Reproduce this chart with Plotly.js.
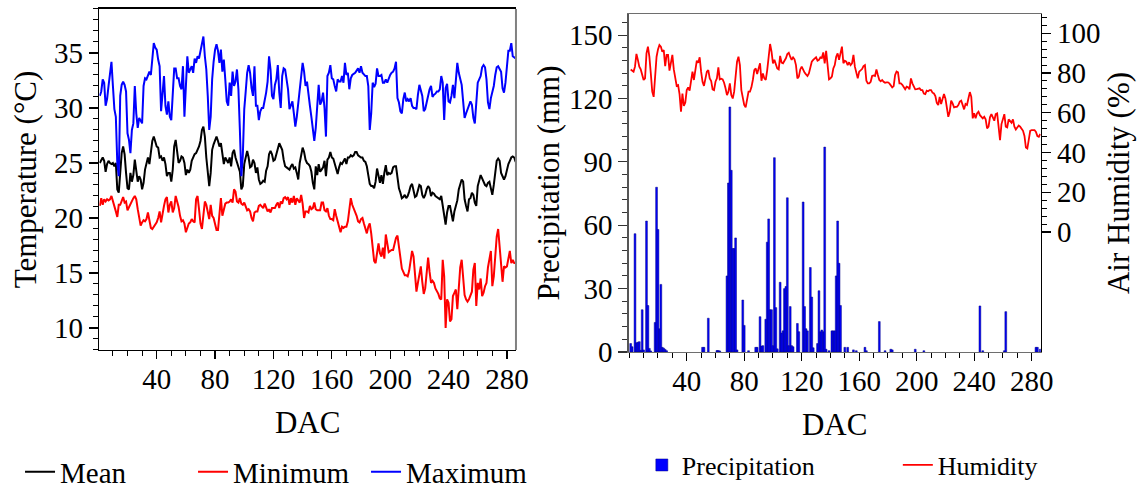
<!DOCTYPE html>
<html>
<head>
<meta charset="utf-8">
<script src="https://cdn.plot.ly/plotly-3.0.1.min.js"></script>
<style>
  html, body { margin: 0; padding: 0; background: #fff; }
  #chart { width: 1138px; height: 488px; }
</style>
</head>
<body>
<div id="chart"></div>
<script>
// ---------- DATA ----------
const NDAYS = 286;
const dac = Array.from({length: NDAYS}, (_, i) => i + 1);

const tempMax = [
  31.1,31.5,32.6,32.3,30.2,30.8,32.0,33.2,34.2,32.0,
  29.9,29.2,25.0,23.8,31.1,32.1,32.4,32.1,31.5,27.7,
  27.1,25.9,28.0,28.6,32.0,29.5,28.2,29.1,28.9,28.6,
  32.0,32.7,32.6,32.9,33.3,33.0,34.5,35.9,35.5,35.3,
  34.4,33.8,29.7,31.7,32.9,30.2,29.4,30.6,29.2,28.9,
  31.1,33.6,33.6,32.7,32.7,32.0,31.7,33.8,29.2,32.3,
  34.7,33.2,33.5,33.8,33.2,34.5,34.1,34.7,34.5,35.3,
  35.9,36.5,34.7,33.5,31.1,28.0,29.2,32.6,34.2,35.3,
  35.8,35.2,34.1,35.3,33.3,34.4,32.6,30.6,30.2,32.3,
  31.1,33.3,32.0,32.4,33.5,31.7,28.0,23.8,25.6,29.9,
  31.5,33.2,33.9,33.2,31.8,31.1,33.8,30.2,30.2,28.9,
  29.7,30.0,30.0,30.6,31.4,32.4,34.7,33.5,31.1,30.8,
  32.1,32.6,33.9,31.4,30.0,32.9,33.6,33.5,32.7,31.7,
  29.9,30.2,30.6,29.5,28.3,29.2,30.5,31.2,32.6,34.1,
  33.3,32.0,32.4,31.5,30.2,29.2,28.3,27.0,28.2,30.2,
  32.1,30.3,30.6,31.4,30.0,27.4,32.9,33.2,33.9,32.7,
  32.6,32.0,31.5,32.6,32.4,32.4,32.9,32.3,34.1,33.0,
  33.2,31.7,32.7,33.0,33.1,33.2,33.4,33.6,33.2,33.8,
  33.2,33.0,32.9,32.9,32.0,28.0,29.5,32.3,31.9,32.2,
  33.6,32.9,32.9,33.0,32.3,32.3,32.6,32.3,32.7,33.0,
  33.2,33.3,33.6,34.2,30.9,30.5,29.7,29.5,30.8,31.4,
  30.6,30.8,30.6,30.9,30.2,30.0,30.0,29.9,31.2,32.1,
  31.6,31.1,29.7,29.9,30.5,31.2,31.7,32.0,31.0,31.2,
  31.3,31.5,31.5,31.7,32.9,32.3,28.9,31.8,32.2,30.6,
  30.5,31.1,32.1,30.9,32.4,34.1,33.2,32.7,32.1,30.6,
  29.1,29.5,29.9,30.2,30.6,30.3,29.1,28.6,30.9,32.3,
  32.6,32.9,33.7,33.9,33.7,32.6,30.5,29.9,30.9,31.5,
  32.0,33.0,33.7,33.8,33.6,33.3,31.8,31.4,32.3,34.1,
  35.2,35.2,35.9,34.7,34.6,34.5
];

const tempMean = [
  25.0,25.2,25.5,25.2,24.2,24.9,25.2,25.0,24.9,25.0,
  24.7,25.0,22.6,22.3,24.7,25.9,26.5,25.8,24.1,22.7,
  22.6,24.1,23.3,23.9,25.3,24.1,23.3,23.8,23.5,22.6,
  23.2,24.4,25.0,25.5,24.9,26.1,27.0,27.4,27.0,26.5,
  26.4,25.5,25.6,25.2,25.5,24.9,23.8,24.1,24.1,23.3,
  24.4,26.5,27.1,26.1,25.0,25.2,25.6,25.5,25.0,23.9,
  24.4,24.1,24.4,25.2,25.5,25.8,25.9,26.2,26.5,27.0,
  28.0,28.3,27.4,25.5,24.4,22.9,24.1,26.2,26.7,27.1,
  27.4,27.0,26.5,26.8,25.8,24.9,25.5,25.3,25.0,25.5,
  24.7,25.9,26.2,25.5,25.0,24.7,24.2,22.6,22.9,24.9,
  25.5,26.1,25.5,24.6,24.7,25.3,25.0,24.1,24.6,23.5,
  23.1,23.2,23.4,23.3,24.3,24.7,25.8,26.1,25.8,25.2,
  25.3,25.8,26.4,26.8,26.5,26.2,25.3,24.7,24.6,24.5,
  24.4,24.7,24.9,24.5,24.6,24.1,23.5,25.0,25.8,26.4,
  26.0,25.3,25.0,24.9,24.7,24.2,23.2,22.6,24.7,23.9,
  24.9,24.2,24.4,24.6,25.2,23.8,25.3,25.5,26.0,25.5,
  25.4,25.0,24.5,24.0,24.6,25.0,24.9,25.2,25.4,24.9,
  25.5,25.5,25.7,25.6,25.7,26.0,26.0,25.7,25.6,25.5,
  25.5,25.2,25.1,24.7,23.9,23.1,22.9,22.9,22.7,23.3,
  24.5,23.8,23.2,23.9,23.1,24.1,24.8,23.9,24.1,24.0,
  24.1,24.6,24.7,24.7,23.6,22.7,22.3,21.8,21.9,22.1,
  21.8,22.0,22.4,22.9,23.1,22.4,21.9,22.0,22.6,23.0,
  22.9,22.1,21.8,22.1,22.6,22.9,22.7,22.0,22.3,22.2,
  22.0,21.9,21.8,21.7,22.0,21.2,20.2,19.4,20.5,21.1,
  21.1,20.2,19.7,20.6,21.0,21.6,22.6,23.0,23.5,23.3,
  21.7,21.1,20.6,21.7,21.8,22.3,22.1,21.4,21.1,22.9,
  23.3,23.9,23.6,23.2,23.0,22.9,23.2,23.3,22.5,22.1,
  23.0,24.4,25.2,25.4,25.2,24.1,23.8,23.5,23.8,24.4,
  24.9,25.2,25.5,25.6,25.5,25.1
];

const tempMin = [
  21.1,21.8,21.2,21.7,21.5,21.7,21.6,21.7,22.0,21.6,
  21.1,20.6,20.1,21.2,21.2,21.5,21.9,21.4,21.5,20.7,
  21.0,21.3,21.5,21.8,22.0,21.7,20.8,20.2,19.3,19.6,
  19.8,19.7,19.9,20.5,19.7,19.1,19.0,19.2,19.4,19.6,
  20.0,20.6,19.6,20.5,21.1,21.7,21.9,20.5,21.2,21.5,
  20.5,20.9,22.0,21.5,21.0,20.2,19.7,19.8,19.5,18.7,
  19.2,19.5,19.6,19.9,19.7,19.6,21.7,22.0,20.8,19.5,
  19.0,20.2,21.5,21.2,20.6,19.9,21.2,20.2,20.0,19.5,
  18.9,18.9,20.8,21.8,20.2,20.8,21.3,21.4,21.4,21.5,
  21.7,21.4,22.6,22.4,21.5,21.4,21.8,21.3,21.2,21.4,
  21.0,20.7,20.8,20.6,20.0,19.7,20.5,20.6,20.6,21.1,
  21.2,21.0,20.9,21.3,20.9,20.6,20.8,20.5,20.9,20.9,
  20.9,21.2,21.4,20.9,21.5,21.3,21.8,21.9,21.7,21.9,
  21.2,21.8,21.4,22.0,21.2,21.8,21.6,21.4,22.1,21.3,
  20.0,20.6,20.6,20.5,21.1,20.8,20.9,21.4,20.8,20.7,
  20.7,20.7,21.4,21.4,20.7,20.6,20.9,20.2,19.9,19.9,
  19.8,20.8,20.2,19.6,19.2,18.7,19.2,19.1,19.2,19.2,
  19.7,21.1,21.8,21.2,20.9,20.5,20.2,19.7,19.6,19.9,
  20.0,19.5,19.1,18.6,19.2,19.5,18.6,17.4,16.1,15.9,
  17.1,17.7,16.8,16.5,17.3,16.3,18.5,17.6,16.9,17.0,
  17.1,17.1,17.7,18.2,18.4,17.4,15.9,15.4,15.1,14.8,
  14.8,14.7,15.2,16.1,17.0,16.5,14.4,13.3,14.1,15.0,
  15.6,14.2,13.1,13.6,15.3,16.4,15.1,14.1,14.3,14.1,
  13.6,13.4,13.1,12.7,12.6,16.2,14.7,10.0,12.6,12.3,
  10.6,10.8,12.9,13.2,13.5,11.7,14.1,15.5,16.2,14.7,
  13.0,12.6,12.4,12.6,13.0,13.3,15.3,15.9,12.0,14.1,
  13.5,14.5,12.9,13.2,13.8,14.1,15.5,16.5,17.0,13.8,
  14.7,16.5,18.3,19.0,17.4,15.9,14.2,15.6,15.5,15.6,
  16.2,17.0,15.9,16.2,15.9,15.9
];

const humidity = [
  81.8,81.0,80.7,83.2,89.6,86.6,83.2,81.8,79.0,76.5,
  77.3,89.9,93.3,88.2,79.8,70.6,68.0,80.7,88.2,91.9,
  94.1,93.3,90.7,91.6,83.5,89.1,89.1,81.2,84.5,89.1,
  81.8,76.5,73.5,73.9,69.4,60.5,69.7,63.4,65.1,71.4,
  72.8,71.1,76.5,80.7,76.5,81.5,86.2,85.2,87.9,80.7,
  75.6,73.5,78.2,80.7,81.5,77.3,76.0,71.8,71.4,75.6,
  77.3,82.9,76.8,77.1,76.8,75.1,72.3,68.9,70.6,74.8,
  68.9,67.2,70.6,78.2,85.7,88.2,84.0,71.4,66.7,63.9,
  62.7,66.1,70.6,70.6,72.8,76.5,81.5,82.3,79.5,82.3,
  84.9,76.1,79.8,77.3,76.5,81.5,89.9,94.6,90.7,84.9,
  86.6,84.9,82.3,81.8,88.6,85.2,84.9,86.2,87.4,89.6,
  90.2,88.2,86.6,87.9,86.9,84.0,77.3,78.2,81.8,83.2,
  81.2,80.2,79.3,78.5,79.8,83.5,85.7,86.6,87.2,87.9,
  86.2,86.6,87.9,87.6,90.4,84.9,91.2,81.5,76.8,77.3,
  78.2,82.3,84.0,88.2,89.9,86.6,89.6,93.3,84.9,86.2,
  85.7,84.0,85.4,84.0,84.9,89.1,83.2,79.5,77.3,80.7,
  81.5,82.0,83.5,84.0,76.1,74.8,74.8,75.6,78.5,78.8,
  78.5,81.8,79.0,76.5,75.8,76.5,75.6,75.1,75.3,75.3,
  74.8,73.9,72.8,73.4,79.0,80.7,80.3,74.8,74.8,74.1,
  72.8,71.8,73.1,72.8,71.8,77.3,74.8,73.4,71.8,71.9,
  72.3,72.3,71.4,71.4,69.7,69.4,71.1,70.8,71.4,71.4,
  70.1,69.7,68.4,65.0,63.9,68.0,64.4,66.9,69.4,67.2,
  61.7,58.0,60.5,66.1,64.7,62.7,63.0,63.0,63.9,65.6,
  66.1,64.0,61.7,64.4,63.9,67.2,70.4,68.0,57.2,59.7,
  57.2,59.7,60.5,58.8,58.0,57.2,58.0,56.7,52.1,53.0,
  57.7,59.3,57.7,56.0,59.3,59.7,53.0,46.2,54.3,56.7,
  59.3,53.0,52.6,56.7,56.0,55.0,56.7,53.0,51.6,52.6,
  53.6,53.0,52.1,50.9,48.3,42.5,42.0,47.9,50.9,51.3,
  51.3,51.3,50.4,48.3,47.9,49.3
];

// precipitation: days with rain and the amount (mm)
const precipDays = [
  1,2,4,5,6,7,8,9,10,12,13,14,15,18,19,20,21,22,23,24,25,26,
  51,52,55,61,62,63,68,69,70,71,72,73,74,75,79,80,83,88,89,91,92,93,
  95,96,97,98,99,100,101,102,103,105,106,107,108,109,110,111,112,113,114,
  117,118,121,122,123,124,126,127,128,131,132,133,134,135,136,137,139,
  141,142,143,144,145,146,147,150,152,156,158,164,165,174,178,182,183,
  199,205,244,246,261,262,283,284,286
];
const precipMM = [
  4,2.5,56,4.4,4.6,4.9,0.8,20,1,62,22,1.7,0.5,14,78,58,11,32,2.2,1.8,1.2,0.6,
  2.2,2.2,16,0.7,0.7,0.5,36,80,116,86,49,49,54,1,24.6,12.6,0.6,2.2,2.2,16.7,2.8,3,
  15.5,52,63,20,20,3,92,21,1.5,33,9,10,30,31,73,3,21.5,3,2.5,
  13.5,9.6,71,21.5,11,10,40,26,2,4,29,9.6,10.4,9.6,97,1.3,0.6,
  10,10,10,36,62,42,22,2.2,2.2,1,0.6,2.2,0.6,14.4,0.6,1.3,1,
  1.3,0.6,21.8,0.6,0.6,19.1,2.2,2.2,1.3
];

// tick labels
const xTicks = [40, 80, 120, 160, 200, 240, 280];
const tempTicks = [10, 15, 20, 25, 30, 35];
const precipTicks = [0, 30, 60, 90, 120, 150];
const humTicks = [0, 20, 40, 60, 80, 100];

// ---------- STYLE ----------
const FONT = 'Liberation Serif, Times New Roman, serif';
const TICKF = {family: FONT, size: 29, color: '#000'};
const TITLEF = {family: FONT, size: 31, color: '#000'};

const humMinor = [];
for (let v = 0; v <= 108; v += 4) humMinor.push(v);

const traces = [
  {x: dac, y: tempMean, name: 'Mean', type: 'scatter', mode: 'lines',
   line: {color: '#000000', width: 2}, xaxis: 'x', yaxis: 'y', legend: 'legend'},
  {x: dac, y: tempMin, name: 'Minimum', type: 'scatter', mode: 'lines',
   line: {color: '#ff0000', width: 2}, xaxis: 'x', yaxis: 'y', legend: 'legend'},
  {x: dac, y: tempMax, name: 'Maximum', type: 'scatter', mode: 'lines',
   line: {color: '#0000ff', width: 2}, xaxis: 'x', yaxis: 'y', legend: 'legend'},
  {x: precipDays, y: precipMM, name: 'Precipitation', type: 'bar', width: 1.25,
   marker: {color: '#0000ff', line: {color: '#000080', width: 0.5}},
   xaxis: 'x2', yaxis: 'y2', legend: 'legend2'},
  {x: dac, y: humidity, name: 'Humidity', type: 'scatter', mode: 'lines',
   line: {color: '#ff0000', width: 1.8}, xaxis: 'x2', yaxis: 'y3', legend: 'legend2'}
];

const commonX = {
  tickmode: 'array', tickvals: xTicks, ticks: 'outside', ticklen: 8, tickwidth: 1.2,
  tickcolor: '#000', tickfont: TICKF, showgrid: false, zeroline: false,
  showline: true, linewidth: 1.5, mirror: true, ticklabelstandoff: -5,
  minor: {tick0: 0, dtick: 10, ticks: 'outside', ticklen: 5, tickwidth: 1, tickcolor: '#000'}
};

const layout = {
  width: 1138, height: 488,
  margin: {l: 0, r: 0, t: 0, b: 0, autoexpand: false},
  paper_bgcolor: '#fff', plot_bgcolor: '#fff',
  font: {family: FONT, color: '#000'},
  bargap: 0,
  xaxis: Object.assign({}, commonX, {
    domain: [0.0873, 0.4534], range: [0.7, 286.2], anchor: 'y', linecolor: '#000',
    title: {text: 'DAC', font: TITLEF, standoff: 17}
  }),
  yaxis: {
    domain: [0.2828, 0.9816], range: [8.0, 39.0], anchor: 'x',
    tickmode: 'array', tickvals: tempTicks, ticks: 'outside', ticklen: 9, tickwidth: 1.2,
    tickcolor: '#000', tickfont: TICKF, showgrid: false, zeroline: false,
    showline: true, linecolor: '#000', linewidth: 1.5, mirror: false,
    minor: {tick0: 0, dtick: 1, ticks: 'outside', ticklen: 5, tickwidth: 1, tickcolor: '#000'},
    title: {text: 'Temperature (°C)', font: TITLEF, standoff: 8}
  },
  xaxis2: Object.assign({}, commonX, {
    domain: [0.5525, 0.9145], range: [-0.35, 286.3], anchor: 'y2', linecolor: '#6e6e6e',
    title: {text: 'DAC', font: TITLEF, standoff: 17}
  }),
  yaxis2: {
    domain: [0.2787, 0.9713], range: [0, 160], anchor: 'x2',
    tickmode: 'array', tickvals: precipTicks, ticks: 'outside', ticklen: 9, tickwidth: 1.2,
    tickcolor: '#333', tickfont: TICKF, showgrid: false, zeroline: false,
    showline: true, linecolor: '#555', linewidth: 1.5,
    minor: {tick0: 0, dtick: 6, ticks: 'outside', ticklen: 5, tickwidth: 1, tickcolor: '#333'},
    title: {text: 'Precipitation (mm)', font: TITLEF, standoff: 0}
  },
  yaxis3: {
    overlaying: 'y2', side: 'right', anchor: 'x2', range: [-60.4, 109.7],
    tickmode: 'array', tickvals: humTicks, ticks: 'outside', ticklen: 9, tickwidth: 1.2,
    tickcolor: '#000', tickfont: TICKF, showgrid: false, zeroline: false,
    showline: true, linecolor: '#000', linewidth: 1.5,
    minor: {tickmode: 'array', tickvals: humMinor, ticks: 'outside', ticklen: 5, tickwidth: 1, tickcolor: '#000'},
    title: {text: 'Air Humidity (%)', font: TITLEF, standoff: 8}
  },
  shapes: [
    {type: 'line', xref: 'x domain', yref: 'y domain', x0: 1, x1: 1, y0: 0, y1: 1,
     line: {color: '#808080', width: 2}}
  ],
  legend: {
    orientation: 'h', x: 0.0176, y: 0.033, xanchor: 'left', yanchor: 'middle',
    font: {family: FONT, size: 29, color: '#000'}, bgcolor: 'rgba(0,0,0,0)',
    traceorder: 'normal', entrywidth: 128, entrywidthmode: 'pixels'
  },
  legend2: {
    orientation: 'h', x: 0.564, y: 0.047, xanchor: 'left', yanchor: 'middle',
    font: {family: FONT, size: 26, color: '#000'}, bgcolor: 'rgba(0,0,0,0)',
    traceorder: 'normal', entrywidth: 211, entrywidthmode: 'pixels'
  },
  showlegend: true
};

Plotly.newPlot('chart', traces, layout, {displayModeBar: false, staticPlot: true});
</script>
</body>
</html>
